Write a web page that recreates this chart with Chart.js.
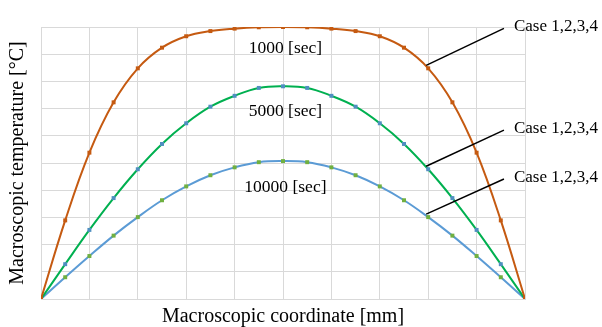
<!DOCTYPE html>
<html>
<head>
<meta charset="utf-8">
<script src="https://cdn.jsdelivr.net/npm/chart.js@4/dist/chart.umd.min.js"></script>
<style>
    html, body { margin: 0; padding: 0; background: #FFFFFF; }
    #wrap { width: 602px; height: 327px; }
</style>
</head>
<body>
<div id="wrap"><canvas id="chart"></canvas></div>
<script>
// node positions along the coordinate (grid every 2 nodes)
const xs = [0, 1, 2, 3, 4, 5, 6, 7, 8, 9, 10, 11, 12, 13, 14, 15, 16, 17, 18, 19, 20];
const t1000 = [0, 2.89, 5.38, 7.23, 8.48, 9.24, 9.66, 9.85, 9.94, 9.99, 10.0, 9.99, 9.94, 9.85, 9.66, 9.24, 8.48, 7.23, 5.38, 2.89, 0];
const t5000 = [0, 1.28, 2.54, 3.71, 4.77, 5.70, 6.46, 7.07, 7.47, 7.76, 7.82, 7.76, 7.47, 7.07, 6.46, 5.70, 4.77, 3.71, 2.54, 1.28, 0];
const t10000 = [0, 0.80, 1.58, 2.33, 3.01, 3.63, 4.14, 4.55, 4.84, 5.03, 5.07, 5.03, 4.84, 4.55, 4.14, 3.63, 3.01, 2.33, 1.58, 0.80, 0];

const timeLabels = ['1000 [sec]', '5000 [sec]', '10000 [sec]'];
const timeLabelX = [10.1, 10.1, 10.1];
const timeLabelY = [9.23, 6.91, 4.12];
const caseLabel = 'Case 1,2,3,4';
const caseAnchorIndex = 16;
const caseEndX = [19.13, 19.13, 19.13];
const caseEndY = [9.95, 6.21, 4.41];

const serif = "'Liberation Serif', 'Times New Roman', serif";

function makeSet(label, values, color, markColor) {
    return {
        label: label,
        data: xs.map((x, i) => ({x: x, y: values[i]})),
        borderColor: color,
        backgroundColor: markColor,
        borderWidth: 2,
        pointStyle: 'rect',
        pointRadius: 2.8,
        pointBorderWidth: 0,
        pointBackgroundColor: markColor,
        tension: 0.4
    };
}

const labelsPlugin = {
    id: 'labels',
    afterDatasetsDraw(chart) {
        const ctx = chart.ctx;
        const xScale = chart.scales.x;
        const yScale = chart.scales.y;
        ctx.save();
        ctx.font = '17.5px ' + serif;
        ctx.fillStyle = '#000000';
        ctx.textAlign = 'center';
        ctx.textBaseline = 'middle';
        timeLabels.forEach((t, i) => {
            ctx.fillText(t, xScale.getPixelForValue(timeLabelX[i]), yScale.getPixelForValue(timeLabelY[i]));
        });
        ctx.font = '17px ' + serif;
        ctx.strokeStyle = '#000000';
        ctx.lineWidth = 1.5;
        ctx.textAlign = 'left';
        chart.data.datasets.forEach((ds, i) => {
            const pt = chart.getDatasetMeta(i).data[caseAnchorIndex];
            const ex = xScale.getPixelForValue(caseEndX[i]);
            const ey = yScale.getPixelForValue(caseEndY[i]);
            ctx.beginPath();
            ctx.moveTo(pt.x - 2, pt.y - 3);
            ctx.lineTo(ex, ey);
            ctx.stroke();
            ctx.fillText(caseLabel, ex + 10, ey - 2);
        });
        ctx.restore();
    }
};

new Chart(document.getElementById('chart'), {
    type: 'line',
    data: {
        datasets: [
            makeSet('1000 [sec]', t1000, '#C55A11', '#C55A11'),
            makeSet('5000 [sec]', t5000, '#00B050', '#4F8FC0'),
            makeSet('10000 [sec]', t10000, '#5B9BD5', '#70B040')
        ]
    },
    options: {
        responsive: true,
        maintainAspectRatio: false,
        animation: false,
        layout: {padding: {top: 27, right: 77, left: 0, bottom: 0}},
        plugins: {
            legend: {display: false},
            tooltip: {enabled: false}
        },
        scales: {
            x: {
                type: 'linear',
                min: 0,
                max: 20,
                ticks: {display: false, stepSize: 2},
                grid: {color: '#D9D9D9', drawTicks: false},
                border: {color: '#D9D9D9'},
                title: {display: true, text: 'Macroscopic coordinate [mm]', color: '#000000',
                    font: {family: serif, size: 20}, padding: {top: 0, bottom: -2}},
                afterFit(scale) { scale.height = 28; }
            },
            y: {
                min: 0,
                max: 10,
                ticks: {display: false, stepSize: 1},
                grid: {color: '#D9D9D9', drawTicks: false},
                border: {color: '#D9D9D9'},
                title: {display: true, text: 'Macroscopic temperature [\u00B0C]', color: '#000000',
                    font: {family: serif, size: 20}, padding: {top: 6, bottom: 0}},
                afterFit(scale) { scale.width = 41; }
            }
        }
    },
    plugins: [labelsPlugin]
});
</script>
</body>
</html>
